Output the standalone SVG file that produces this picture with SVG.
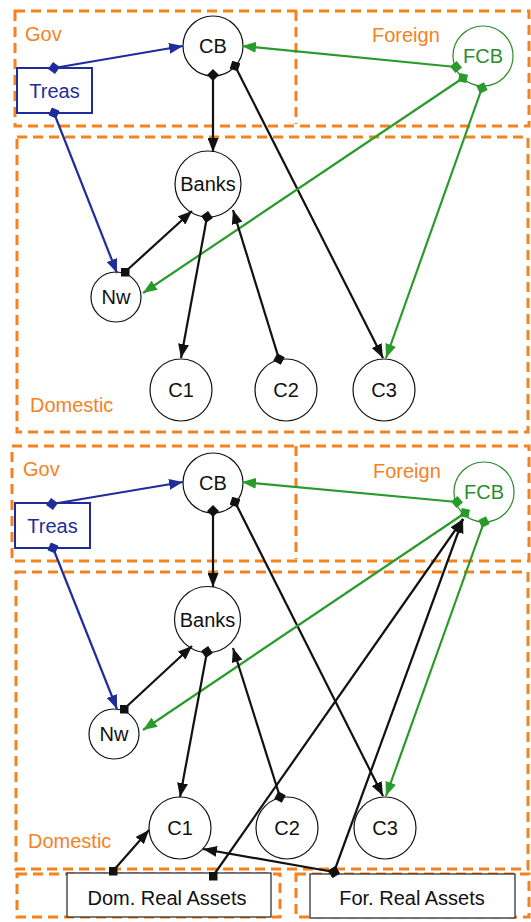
<svg xmlns="http://www.w3.org/2000/svg" width="531" height="922" viewBox="0 0 531 922">
  <style>
    .zone { fill: none; stroke: #F5821F; stroke-width: 3; stroke-dasharray: 10 6; }
    .zlabel { font-family: "Liberation Sans", Arial, sans-serif; font-size: 20px; fill: #F5821F; }
    .node { fill: #fff; stroke: #111; stroke-width: 1.2; }
    .lbl { font-family: "Liberation Sans", Arial, sans-serif; font-size: 20px; fill: #111; text-anchor: middle; }
    .treas { fill: #fff; stroke: #1F2D9A; stroke-width: 2; }
    .treas-t { fill: #1F2D9A; }
    .fcb { fill: #fff; stroke: #2E8B2E; stroke-width: 1.2; }
    .fcb-t { fill: #2E8B2E; }
    .asset { fill: #fff; stroke: #222; stroke-width: 1.2; }
    .k { fill: none; stroke: #111; stroke-width: 2.2; }
    .b { fill: none; stroke: #1F2D9A; stroke-width: 2.2; }
    .g { fill: none; stroke: #2A9A2A; stroke-width: 2.2; }
  </style>
  <defs>
    <marker id="ak" viewBox="0 0 14 11" refX="14" refY="5.5" markerWidth="14" markerHeight="11" markerUnits="userSpaceOnUse" orient="auto"><path d="M0,0 L14,5.5 L0,11 z" fill="#111"/></marker>
    <marker id="ab" viewBox="0 0 14 11" refX="14" refY="5.5" markerWidth="14" markerHeight="11" markerUnits="userSpaceOnUse" orient="auto"><path d="M0,0 L14,5.5 L0,11 z" fill="#1F2D9A"/></marker>
    <marker id="ag" viewBox="0 0 14 11" refX="14" refY="5.5" markerWidth="14" markerHeight="11" markerUnits="userSpaceOnUse" orient="auto"><path d="M0,0 L14,5.5 L0,11 z" fill="#2A9A2A"/></marker>
    <marker id="dk" viewBox="0 0 10 10" refX="5" refY="5" markerWidth="12" markerHeight="12" markerUnits="userSpaceOnUse" orient="auto"><path d="M0,5 L5,0 L10,5 L5,10 z" fill="#111"/></marker>
    <marker id="db" viewBox="0 0 10 10" refX="5" refY="5" markerWidth="12" markerHeight="12" markerUnits="userSpaceOnUse" orient="auto"><path d="M0,5 L5,0 L10,5 L5,10 z" fill="#1F2D9A"/></marker>
    <marker id="dg" viewBox="0 0 10 10" refX="5" refY="5" markerWidth="12" markerHeight="12" markerUnits="userSpaceOnUse" orient="auto"><path d="M0,5 L5,0 L10,5 L5,10 z" fill="#2A9A2A"/></marker>
    <marker id="sk" viewBox="0 0 8 8" refX="4" refY="4" markerWidth="9" markerHeight="9" markerUnits="userSpaceOnUse"><rect x="0" y="0" width="8" height="8" fill="#111"/></marker>
  </defs>

  <!-- ===== upper panel ===== -->
  <g id="zones-top">
    <rect class="zone" x="15" y="11" width="514" height="115"/>
    <line class="zone" x1="296" y1="11" x2="296" y2="124"/>
    <rect class="zone" x="17" y="137" width="511" height="295"/>
    <text class="zlabel" x="25" y="41">Gov</text>
    <text class="zlabel" x="372" y="42">Foreign</text>
    <text class="zlabel" x="30" y="412">Domestic</text>
  </g>

  <g id="top-cb"><circle class="node" cx="213" cy="46" r="30"/><text class="lbl" x="213" y="53">CB</text></g>
  <g id="top-treas"><rect class="treas" x="17" y="68" width="75" height="45"/><text class="lbl treas-t" x="54.5" y="98">Treas</text></g>
  <g id="top-fcb"><circle class="fcb" cx="483" cy="56" r="30"/><text class="lbl fcb-t" x="483" y="63">FCB</text></g>
  <g id="top-banks"><circle class="node" cx="208" cy="184" r="33"/><text class="lbl" x="208" y="191">Banks</text></g>
  <g id="top-nw"><circle class="node" cx="116" cy="297" r="25"/><text class="lbl" x="116" y="304">Nw</text></g>
  <g id="top-c1"><circle class="node" cx="181" cy="390" r="31"/><text class="lbl" x="181" y="397">C1</text></g>
  <g id="top-c2"><circle class="node" cx="286" cy="390" r="31"/><text class="lbl" x="286" y="397">C2</text></g>
  <g id="top-c3"><circle class="node" cx="384" cy="390" r="31"/><text class="lbl" x="384" y="397">C3</text></g>

  <g id="connectors-top">
    <line class="b" x1="54" y1="68" x2="183" y2="46" marker-start="url(#db)" marker-end="url(#ab)"/>
    <line class="b" x1="54" y1="113" x2="117" y2="273" marker-start="url(#db)" marker-end="url(#ab)"/>
    <line class="k" x1="213" y1="75" x2="213" y2="152" marker-start="url(#dk)" marker-end="url(#ak)"/>
    <line class="k" x1="235" y1="66" x2="383" y2="358" marker-start="url(#dk)" marker-end="url(#ak)"/>
    <line class="g" x1="456" y1="67" x2="242" y2="46" marker-start="url(#dg)" marker-end="url(#ag)"/>
    <line class="g" x1="463" y1="78" x2="143" y2="293" marker-start="url(#dg)" marker-end="url(#ag)"/>
    <line class="g" x1="482" y1="88" x2="386" y2="358" marker-start="url(#dg)" marker-end="url(#ag)"/>
    <line class="k" x1="125" y1="272" x2="192" y2="211" marker-start="url(#sk)" marker-end="url(#ak)"/>
    <line class="k" x1="207" y1="217" x2="181" y2="358" marker-start="url(#dk)" marker-end="url(#ak)"/>
    <line class="k" x1="279" y1="359" x2="233" y2="210" marker-start="url(#dk)" marker-end="url(#ak)"/>
  </g>

  <!-- ===== lower panel ===== -->
  <g id="zones-bottom">
    <rect class="zone" x="12" y="446" width="517" height="115"/>
    <line class="zone" x1="296" y1="446" x2="296" y2="559"/>
    <rect class="zone" x="16" y="572" width="512" height="297"/>
    <rect class="zone" x="17" y="874" width="263" height="43"/>
    <rect class="zone" x="296" y="874" width="233" height="43"/>
    <text class="zlabel" x="23" y="476">Gov</text>
    <text class="zlabel" x="373" y="478">Foreign</text>
    <text class="zlabel" x="28" y="848">Domestic</text>
  </g>

  <g id="bot-cb"><circle class="node" cx="213" cy="483" r="30"/><text class="lbl" x="213" y="490">CB</text></g>
  <g id="bot-treas"><rect class="treas" x="15" y="503" width="75" height="45"/><text class="lbl treas-t" x="52.5" y="533">Treas</text></g>
  <g id="bot-fcb"><circle class="fcb" cx="484" cy="492" r="30"/><text class="lbl fcb-t" x="484" y="499">FCB</text></g>
  <g id="bot-banks"><circle class="node" cx="207.5" cy="619.5" r="33"/><text class="lbl" x="207.5" y="626.5">Banks</text></g>
  <g id="bot-nw"><circle class="node" cx="114" cy="734" r="25"/><text class="lbl" x="114" y="741">Nw</text></g>
  <g id="bot-c1"><circle class="node" cx="180" cy="828" r="31"/><text class="lbl" x="180" y="835">C1</text></g>
  <g id="bot-c2"><circle class="node" cx="287" cy="828" r="31"/><text class="lbl" x="287" y="835">C2</text></g>
  <g id="bot-c3"><circle class="node" cx="385" cy="828" r="31"/><text class="lbl" x="385" y="835">C3</text></g>
  <g id="bot-dom-assets"><rect class="asset" x="67" y="873" width="204" height="44"/><text class="lbl" x="167" y="905">Dom. Real Assets</text></g>
  <g id="bot-for-assets"><rect class="asset" x="310" y="874" width="205" height="44"/><text class="lbl" x="412" y="905">For. Real Assets</text></g>

  <g id="connectors-bottom">
    <line class="b" x1="52" y1="504" x2="183" y2="482" marker-start="url(#db)" marker-end="url(#ab)"/>
    <line class="b" x1="53" y1="548" x2="117" y2="709" marker-start="url(#db)" marker-end="url(#ab)"/>
    <line class="k" x1="213" y1="511" x2="213" y2="587" marker-start="url(#dk)" marker-end="url(#ak)"/>
    <line class="k" x1="235" y1="502" x2="383" y2="796" marker-start="url(#dk)" marker-end="url(#ak)"/>
    <line class="g" x1="457" y1="502" x2="242" y2="482" marker-start="url(#dg)" marker-end="url(#ag)"/>
    <line class="g" x1="465" y1="513" x2="143" y2="730" marker-start="url(#dg)" marker-end="url(#ag)"/>
    <line class="g" x1="484" y1="522" x2="386" y2="796" marker-start="url(#dg)" marker-end="url(#ag)"/>
    <line class="k" x1="124" y1="709" x2="192" y2="646" marker-start="url(#sk)" marker-end="url(#ak)"/>
    <line class="k" x1="207" y1="652" x2="180" y2="797" marker-start="url(#dk)" marker-end="url(#ak)"/>
    <line class="k" x1="280" y1="797" x2="233" y2="648" marker-start="url(#dk)" marker-end="url(#ak)"/>
    <line class="k" x1="113" y1="871" x2="149" y2="830" marker-start="url(#sk)" marker-end="url(#ak)"/>
    <line class="k" x1="213" y1="876" x2="463" y2="519" marker-start="url(#sk)" marker-end="url(#ak)"/>
    <line class="k" x1="334" y1="872" x2="463" y2="519" marker-start="url(#dk)" marker-end="url(#ak)"/>
    <line class="k" x1="334" y1="872" x2="203" y2="849" marker-start="url(#dk)" marker-end="url(#ak)"/>
  </g>
</svg>
